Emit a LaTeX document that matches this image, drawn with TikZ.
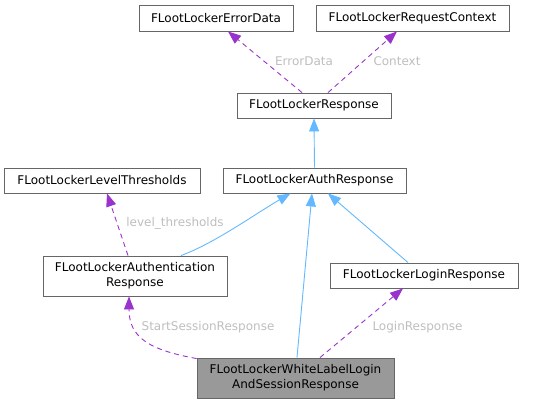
\documentclass[tikz,border=0pt]{standalone}
\usepackage{fontspec}
\setmainfont{DejaVu Sans}
\usetikzlibrary{arrows.meta}
\definecolor{dep}{HTML}{9A32CD}
\definecolor{inh}{HTML}{63B8FF}
\definecolor{bord}{HTML}{666666}
\definecolor{lbl}{HTML}{BEBEBE}
\tikzset{
  box/.style={draw=bord, line width=0.9pt, fill=white, inner sep=0pt, align=center, font=\fontsize{12}{15}\selectfont},
  deparrow/.style={draw=dep, line width=0.9pt, dash pattern=on 5pt off 4pt, -{Triangle[length=13pt,width=10pt]}},
  inharrow/.style={draw=inh, line width=0.9pt, -{Triangle[length=13pt,width=10pt]}},
  elabel/.style={text=lbl, inner sep=0pt, font=\fontsize{12}{15}\selectfont},
}
\begin{document}
\begin{tikzpicture}[x=1pt,y=-1pt]
\useasboundingbox (0,0) rectangle (553,404);
\node[box, minimum width=154pt, minimum height=26pt] (errd) at (216,18) {FLootLockerErrorData};
\node[box, minimum width=193pt, minimum height=26pt] (ctx) at (412.5,18) {FLootLockerRequestContext};
\node[box, minimum width=154pt, minimum height=25pt] (resp) at (314,105.5) {FLootLockerResponse};
\node[box, minimum width=196pt, minimum height=25pt] (levels) at (102,180.5) {FLootLockerLevelThresholds};
\node[box, minimum width=183pt, minimum height=25pt] (authr) at (314.5,180.5) {FLootLockerAuthResponse};
\node[box, minimum width=184pt, minimum height=40pt] (authn) at (135,276) {FLootLockerAuthentication\\Response};
\node[box, minimum width=188pt, minimum height=25pt] (login) at (424,275.5) {FLootLockerLoginResponse};
\node[box, fill={rgb,255:red,153;green,153;blue,153}, minimum width=197pt, minimum height=40pt] (wl) at (295.5,378) {FLootLockerWhiteLabelLogin\\AndSessionResponse};

% labels
\node[elabel] (lerr) at (304,61) {ErrorData};
\node[elabel] (lctx) at (397,61) {Context};
\node[elabel] (llev) at (175,223) {level\_thresholds};
\node[elabel] (lss) at (208,327) {StartSessionResponse};
\node[elabel] (llog) at (417.5,327) {LoginResponse};

% dependency edges
\draw[deparrow] ([xshift=-12pt]resp.north) -- ([xshift=12pt]errd.south);
\draw[deparrow] ([xshift=14pt]resp.north) -- ([xshift=-15.5pt]ctx.south);
\draw[deparrow] ([xshift=-7pt]authn.north) -- ([xshift=5pt]levels.south);
\draw[deparrow] ([yshift=-1pt]wl.north west) .. controls (150,350) and (129,338) .. ([xshift=-6pt]authn.south);
\draw[deparrow] ([xshift=24.5pt]wl.north) -- ([xshift=-21pt]login.south);

% inheritance edges
\draw[inharrow] (authr.north) -- (resp.south);
\draw[inharrow] ([xshift=46pt]authn.north) .. controls (215,243) and (255,214) .. ([xshift=-24pt]authr.south);
\draw[inharrow] ([xshift=1.5pt]wl.north) -- ([xshift=-2.5pt]authr.south);
\draw[inharrow] ([xshift=-16pt]login.north) -- ([xshift=13.5pt]authr.south);
\end{tikzpicture}
\end{document}
